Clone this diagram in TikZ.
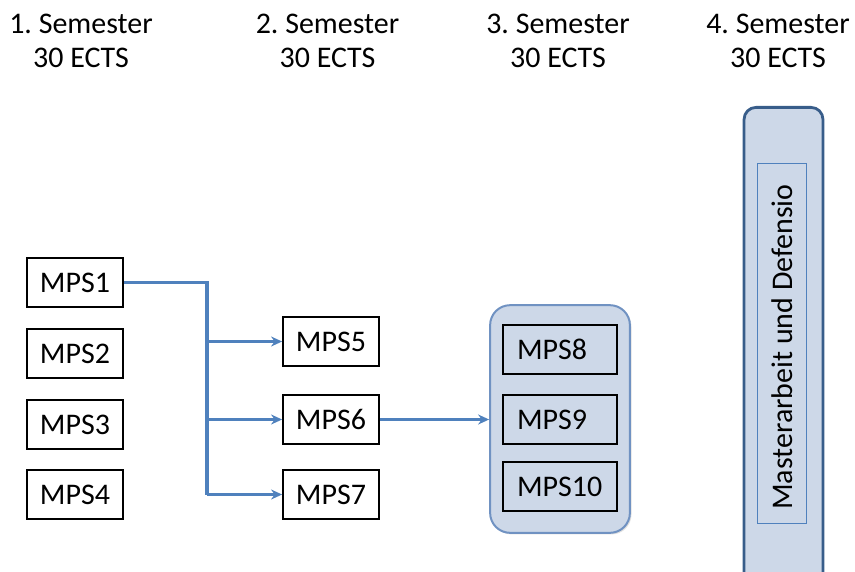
\documentclass[tikz,border=0pt]{standalone}
\usepackage{fontspec}
\setmainfont{Carlito}
\frenchspacing
\usetikzlibrary{arrows.meta,shadows}
\definecolor{linkblue}{RGB}{79,129,189}
\definecolor{paleblue}{RGB}{205,216,232}
\definecolor{rimblue}{RGB}{112,146,194}
\definecolor{darkrim}{RGB}{56,93,138}
\begin{document}
\begin{tikzpicture}[scale=0.176,
    mps/.style={draw=black, line width=1pt, minimum width=48pt, minimum height=24.5pt, inner sep=0pt, font=\fontsize{15}{17}\selectfont},
    mpsin/.style={mps, fill=paleblue, minimum width=57pt, text width=43pt, inner xsep=7pt, align=left},
    head/.style={align=center, font=\fontsize{15}{17}\selectfont, inner sep=0pt},
    link/.style={draw=linkblue, line width=1.6pt},
    arrow/.style={link, -{Stealth[length=5.5pt,width=5pt]}}]
    \clip (0,0) rectangle (85.5,-57.1);
    \useasboundingbox (0,0) rectangle (85.5,-57.1);
    \node [head] (s1) at (8.1,-4.1) {1. Semester\\30 ECTS};
    \node [head] (s2) at (32.75,-4.1) {2. Semester\\30 ECTS};
    \node [head] (s3) at (55.8,-4.1) {3. Semester\\30 ECTS};
    \node [head] (s4) at (77.8,-4.1) {4. Semester\\30 ECTS};
    \node [mps] (m1) at (7.5,-28.25) {MPS1};
    \node [mps] (m2) at (7.5,-35.35) {MPS2};
    \node [mps] (m3) at (7.5,-42.45) {MPS3};
    \node [mps] (m4) at (7.5,-49.45) {MPS4};
    \node [mps] (m5) at (33.1,-34.15) {MPS5};
    \node [mps] (m6) at (33.1,-41.95) {MPS6};
    \node [mps] (m7) at (33.1,-49.45) {MPS7};
    \node [draw=rimblue, line width=1pt, fill=paleblue, rounded corners=10pt, minimum width=70pt, minimum height=114pt, drop shadow={shadow xshift=0.8pt, shadow yshift=-0.8pt, opacity=0.25}] (grp) at (56,-41.9) {};
    \node [mpsin] (m8) at (56,-34.95) {MPS8};
    \node [mpsin] (m9) at (56,-41.95) {MPS9};
    \node [mpsin] (m10) at (56,-48.65) {MPS10};
    \node [draw=darkrim, line width=1.4pt, fill=paleblue, rounded corners=6pt, minimum width=39.5pt, minimum height=246.5pt] (ma) at (78.35,-35.35) {};
    \node [draw=linkblue, line width=0.5pt, minimum width=25pt, minimum height=180.5pt, inner sep=0pt] (mb) at (78.2,-34.35) {};
    \node [rotate=90, font=\fontsize{15}{17}\selectfont] (mt) at (78.2,-34.7) {Masterarbeit und Defensio};
    \coordinate (j5) at (20.7,-34.15);
    \coordinate (j6) at (20.7,-41.95);
    \coordinate (j7) at (20.7,-49.45);
    \draw [link] (m1.east) -| (j7);
    \draw [arrow] (j5) -- (m5.west);
    \draw [arrow] (j6) -- (m6.west);
    \draw [arrow] (j7) -- (m7.west);
    \draw [arrow] (m6.east) -- (grp.west |- m6.east);
\end{tikzpicture}
\end{document}
